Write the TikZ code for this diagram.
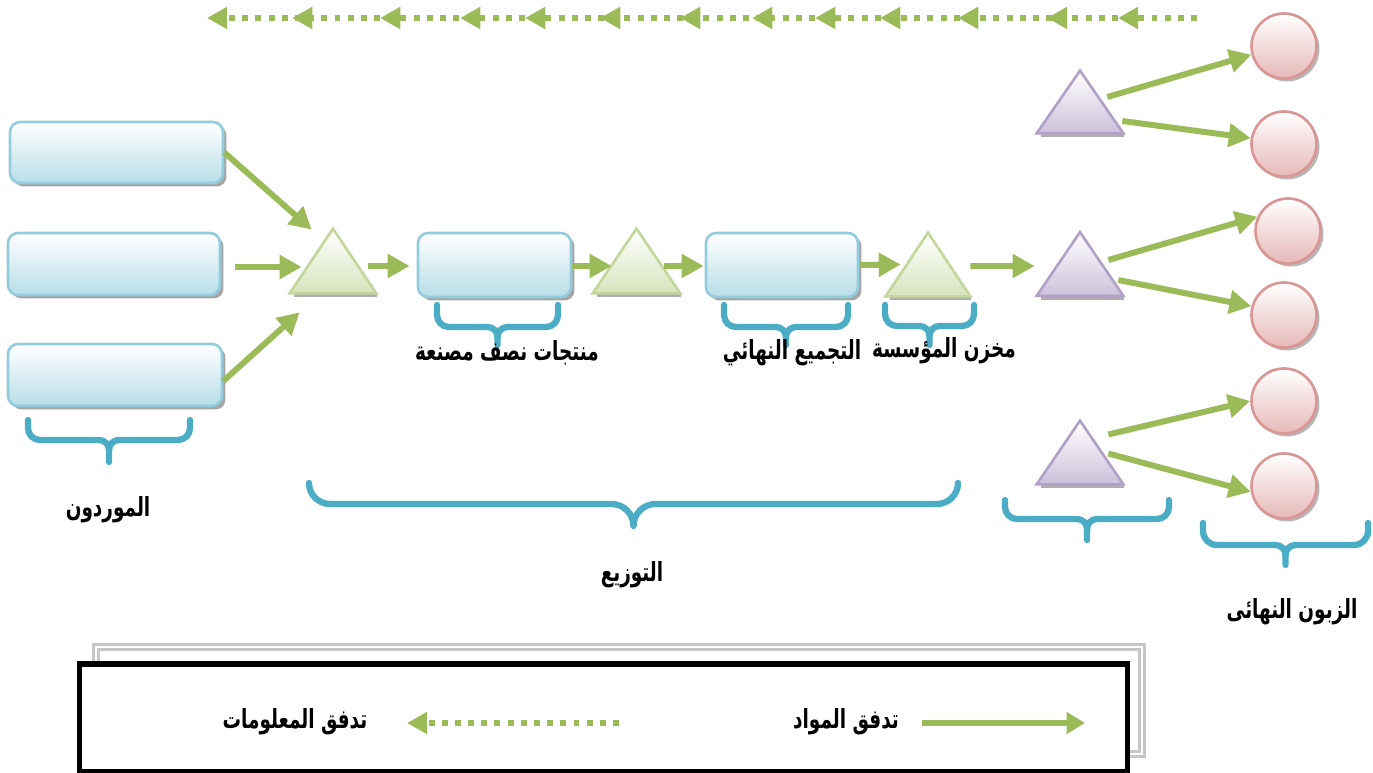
\documentclass[tikz,border=0pt]{standalone}
\usepackage{graphicx}
\usepackage{fontspec}
\newfontfamily\arabicfont[Script=Arabic]{DejaVu Sans}
\TeXXeTstate=1
\usetikzlibrary{arrows.meta,shadows,calc,decorations.markings}

\definecolor{flowgreen}{HTML}{9BBB59}
\definecolor{bracecol}{HTML}{4BACC6}
\definecolor{boxline}{HTML}{93CDDD}
\definecolor{boxfill}{HTML}{B7DEE8}
\definecolor{triline}{HTML}{C3D69B}
\definecolor{trifill}{HTML}{D7E4BD}
\definecolor{purline}{HTML}{B2A1C7}
\definecolor{purfill}{HTML}{CCC1DA}
\definecolor{cirline}{HTML}{D99694}
\definecolor{cirfill}{HTML}{E6B9B8}

% right-to-left label text, set narrow and tall
\newcommand\artext[1]{\scalebox{0.84}[1.2]{\beginR #1\endR}}

% curly brace opening downwards:
% x-left, x-right, y-top, y-bar, y-tip, end radius, tip radius
\newcommand\curlybr[7]{%
  \pgfmathsetmacro\brM{(#1+#2)/2}%
  \pgfmathsetmacro\brA{#4-#6}%
  \pgfmathsetmacro\brL{#1+#6}%
  \pgfmathsetmacro\brR{#2-#6}%
  \pgfmathsetmacro\brML{\brM-#7}%
  \pgfmathsetmacro\brMR{\brM+#7}%
  \pgfmathsetmacro\brT{#4+#7}%
  \draw[brc] (#1,#3) -- (#1,\brA) to[out=-90,in=180] (\brL,#4)
    -- (\brML,#4) to[out=0,in=90] (\brM,\brT) -- (\brM,#5);
  \draw[brc] (#2,#3) -- (#2,\brA) to[out=-90,in=0] (\brR,#4)
    -- (\brMR,#4) to[out=180,in=90] (\brM,\brT);
}
% triangle drawn inside the frame of a named node: node, border colour, fill colour
\newcommand\drawtri[3]{%
  \fill[black!45, opacity=.7] ($(#1.south west)+(4,0)$) rectangle ($(#1.south east)+(1,4)$);
  \shade[top color=white, bottom color=#3, draw=#2, line width=1.5pt]
    (#1.south west) -- (#1.north) -- (#1.south east) -- cycle;
}

\begin{document}
\begin{tikzpicture}[x=0.02cm, y=-0.02cm,
  sbox/.style={rectangle, rounded corners=0.2cm, draw=boxline, line width=1.5pt,
    top color=white, bottom color=boxfill, inner sep=0pt,
    drop shadow={shadow xshift=0.07cm, shadow yshift=-0.07cm, opacity=.5, fill=black!70}},
  triframe/.style={rectangle, inner sep=0pt, draw=none},
  cir/.style={circle, draw=cirline, line width=1.5pt, top color=white, bottom color=cirfill,
    minimum size=1.3cm, inner sep=0pt,
    drop shadow={shadow xshift=0.06cm, shadow yshift=-0.06cm, opacity=.4, fill=black!70}},
  ftip/.style={-{Triangle[length=12.5pt,width=13pt]}},
  flow/.style={draw=flowgreen, line width=3.4pt, ftip},
  info/.style={draw=flowgreen, line width=3.7pt, dash pattern=on 3.4pt off 4.1pt,
    -{Triangle[length=11.5pt,width=12pt]}},
  infotip/.style={decoration={markings,#1}, postaction={decorate}},
  brc/.style={draw=bracecol, line width=3.6pt, line cap=round},
  lbl/.style={font=\arabicfont\bfseries\fontsize{12.5}{15}\selectfont, inner sep=1pt},
]
\useasboundingbox (0,0) rectangle (1373,773);

% ---- information flow along the top
\coordinate (ia) at (1197,18);
\coordinate (ib) at (207,18);
\draw[info, infotip={
    mark=at position 1.58cm with {\arrow{Triangle[length=11.5pt,width=12pt]}},
    mark=at position 3.0cm with {\arrow{Triangle[length=11.5pt,width=12pt]}},
    mark=at position 4.78cm with {\arrow{Triangle[length=11.5pt,width=12pt]}},
    mark=at position 6.34cm with {\arrow{Triangle[length=11.5pt,width=12pt]}},
    mark=at position 7.64cm with {\arrow{Triangle[length=11.5pt,width=12pt]}},
    mark=at position 8.9cm with {\arrow{Triangle[length=11.5pt,width=12pt]}},
    mark=at position 10.34cm with {\arrow{Triangle[length=11.5pt,width=12pt]}},
    mark=at position 11.94cm with {\arrow{Triangle[length=11.5pt,width=12pt]}},
    mark=at position 13.44cm with {\arrow{Triangle[length=11.5pt,width=12pt]}},
    mark=at position 14.74cm with {\arrow{Triangle[length=11.5pt,width=12pt]}},
    mark=at position 16.34cm with {\arrow{Triangle[length=11.5pt,width=12pt]}},
    mark=at position 18.1cm with {\arrow{Triangle[length=11.5pt,width=12pt]}}}]
  (ia) -- (ib);

% ---- suppliers
\node[sbox, minimum width=4.26cm, minimum height=1.22cm] (s1) at (116.5,152.5) {};
\node[sbox, minimum width=4.24cm, minimum height=1.24cm] (s2) at (114,264) {};
\node[sbox, minimum width=4.28cm, minimum height=1.24cm] (s3) at (115,375) {};

% ---- production chain
\node[sbox, minimum width=3.06cm, minimum height=1.28cm] (s4) at (494.5,265) {};
\node[sbox, minimum width=3.04cm, minimum height=1.28cm] (s5) at (782,265) {};

\node[triframe, minimum width=1.72cm, minimum height=1.28cm] (t1) at (333,261) {};
\node[triframe, minimum width=1.74cm, minimum height=1.28cm] (t2) at (636.5,261) {};
\node[triframe, minimum width=1.68cm, minimum height=1.26cm] (t3) at (928,264.5) {};
\drawtri{t1}{triline}{trifill}
\drawtri{t2}{triline}{trifill}
\drawtri{t3}{triline}{trifill}

% ---- distribution
\node[triframe, minimum width=1.72cm, minimum height=1.24cm] (p1) at (1080,102) {};
\node[triframe, minimum width=1.72cm, minimum height=1.26cm] (p2) at (1080,264) {};
\node[triframe, minimum width=1.72cm, minimum height=1.26cm] (p3) at (1080,452.5) {};
\drawtri{p1}{purline}{purfill}
\drawtri{p2}{purline}{purfill}
\drawtri{p3}{purline}{purfill}

% ---- end customers
\node[cir] (c1) at (1284,46) {};
\node[cir] (c2) at (1284,144) {};
\node[cir] (c3) at (1288,231) {};
\node[cir] (c4) at (1284,315) {};
\node[cir] (c5) at (1284,401) {};
\node[cir] (c6) at (1284,486) {};

% ---- material flow
\draw[flow] (s1.east) -- ($(t1.north west)+(22,1)$);
\draw[flow] ($(s2.east)+(14,3)$) -- ($(t1.west)+(12,6)$);
\draw[flow] ($(s3.east)+(0,6)$) -- ($(t1.south west)+(10,19)$);
\draw[flow] ($(t1.east)+(-8,5)$) -- ($(s4.west)+(-7,1)$);
\draw[flow] ($(s4.east)+(0,1)$) -- ($(t2.west)+(19,5)$);
\draw[flow] ($(t2.east)+(-16,5)$) -- ($(s5.west)+(-1,1)$);
\draw[flow] (s5.east) -- ($(t3.west)+(15,0)$);
\draw[flow] ($(t3.east)+(0,1.5)$) -- ($(p2.west)+(-2,2)$);
\draw[flow] ($(p1.east)+(-16,-5)$) -- (c1.195);
\draw[flow] ($(p1.east)+(-1,19)$) -- (c2.170);
\draw[flow] ($(p2.east)+(-15,-4)$) -- (c3.155);
\draw[flow] ($(p2.east)+(-5,16)$) -- (c4.165);
\draw[flow] ($(p3.east)+(-15,-18)$) -- (c5.west);
\draw[flow] ($(p3.east)+(-15,1)$) -- (c6.190);

% ---- braces
\curlybr{28}{190}{420}{440}{462}{12}{10}
\curlybr{437}{558}{305}{327}{345}{12}{10}
\curlybr{724}{848}{305}{327}{345}{12}{10}
\curlybr{885}{974}{305}{326}{345}{12}{10}
\curlybr{309}{958}{483}{504}{523}{21}{22}
\curlybr{1005}{1169}{500}{519}{540}{12}{10}
\curlybr{1203}{1368}{523}{545}{565}{14}{10}

% ---- labels
\node[lbl] (l1) at (507,353) {\artext{منتجات نصف مصنعة}};
\node[lbl] (l2) at (792,353) {\artext{التجميع النهائي}};
\node[lbl] (l3) at (944,351) {\artext{مخزن المؤسسة}};
\node[lbl] (l4) at (108,510) {\artext{الموردون}};
\node[lbl] (l5) at (632,575) {\artext{التوزيع}};
\node[lbl] (l6) at (1292,612) {\artext{الزبون النهائى}};

% ---- legend
\draw[gray!45, line width=1.3pt, double=white, double distance=1.4pt] (96,647) rectangle (1142,754);
\node[draw=black, fill=white, line width=3pt, minimum width=20.96cm, minimum height=2.16cm,
  inner sep=0pt] (leg) at (603.5,718) {};
\node[lbl] (lm) at (846,722) {\artext{تدفق المواد}};
\node[lbl] (li) at (295,722) {\artext{تدفق المعلومات}};
\coordinate (ms) at (922,723);
\coordinate (me) at (1085,723);
\coordinate (is) at (619,723);
\coordinate (ie) at (407,723);
\draw[draw=flowgreen, line width=3.9pt, -{Triangle[length=10.5pt,width=12pt]}] (ms) -- (me);
\draw[info] (is) -- (ie);
\end{tikzpicture}
\end{document}
